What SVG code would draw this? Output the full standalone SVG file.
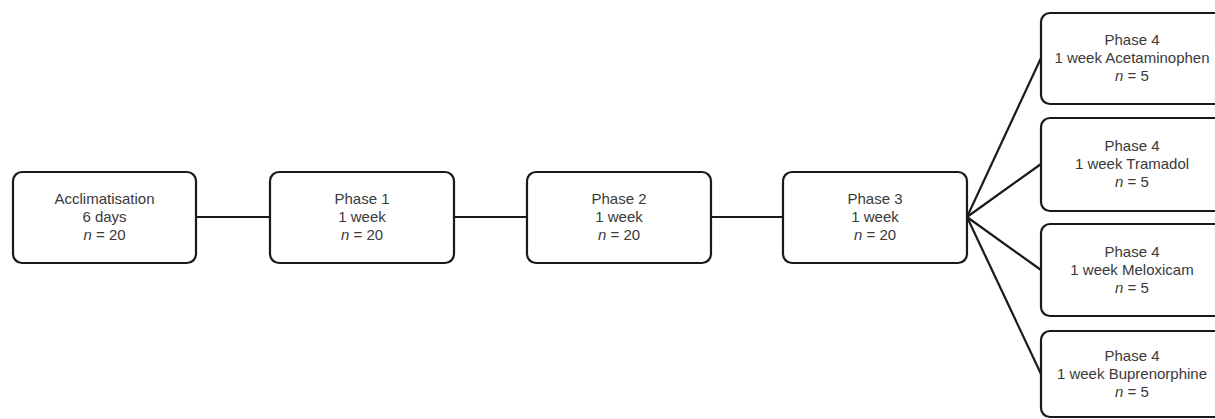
<svg xmlns="http://www.w3.org/2000/svg" width="1215" height="419" viewBox="0 0 1215 419">
<style>
.box{fill:#fff;stroke:#1a1a1a;stroke-width:2.2}
.lbl{font-family:"Liberation Sans",Arial,sans-serif;font-size:15px;fill:#3a3a3a;text-anchor:middle}
.conn{stroke:#1a1a1a;stroke-width:2.2;fill:none}
</style>
<rect width="1215" height="419" fill="#fff"/>
<g id="connectors">
<line class="conn" x1="196" y1="217" x2="270" y2="217"/>
<line class="conn" x1="454" y1="217" x2="527" y2="217"/>
<line class="conn" x1="711" y1="217" x2="783" y2="217"/>
<line class="conn" x1="967" y1="217" x2="1041" y2="58"/>
<line class="conn" x1="967" y1="217" x2="1041" y2="164"/>
<line class="conn" x1="967" y1="217" x2="1041" y2="270"/>
<line class="conn" x1="967" y1="217" x2="1041" y2="374"/>
</g>
<g id="acclimatisation">
<rect class="box" x="13" y="172" width="183" height="91" rx="9"/>
<text class="lbl"><tspan x="104.5" y="204">Acclimatisation</tspan><tspan x="104.5" y="222">6 days</tspan><tspan x="104.5" y="240"><tspan font-style="italic">n</tspan> = 20</tspan></text>
</g>
<g id="phase1">
<rect class="box" x="270" y="172" width="184" height="91" rx="9"/>
<text class="lbl"><tspan x="362" y="204">Phase 1</tspan><tspan x="362" y="222">1 week</tspan><tspan x="362" y="240"><tspan font-style="italic">n</tspan> = 20</tspan></text>
</g>
<g id="phase2">
<rect class="box" x="527" y="172" width="184" height="91" rx="9"/>
<text class="lbl"><tspan x="619" y="204">Phase 2</tspan><tspan x="619" y="222">1 week</tspan><tspan x="619" y="240"><tspan font-style="italic">n</tspan> = 20</tspan></text>
</g>
<g id="phase3">
<rect class="box" x="783" y="172" width="184" height="91" rx="9"/>
<text class="lbl"><tspan x="875" y="204">Phase 3</tspan><tspan x="875" y="222">1 week</tspan><tspan x="875" y="240"><tspan font-style="italic">n</tspan> = 20</tspan></text>
</g>
<g id="phase4-acetaminophen">
<rect class="box" x="1041" y="13" width="184" height="91" rx="9"/>
<text class="lbl"><tspan x="1132" y="45">Phase 4</tspan><tspan x="1132" y="63">1 week Acetaminophen</tspan><tspan x="1132" y="81"><tspan font-style="italic">n</tspan> = 5</tspan></text>
</g>
<g id="phase4-tramadol">
<rect class="box" x="1041" y="118" width="184" height="93" rx="9"/>
<text class="lbl"><tspan x="1132" y="151">Phase 4</tspan><tspan x="1132" y="169">1 week Tramadol</tspan><tspan x="1132" y="187"><tspan font-style="italic">n</tspan> = 5</tspan></text>
</g>
<g id="phase4-meloxicam">
<rect class="box" x="1041" y="224" width="184" height="92" rx="9"/>
<text class="lbl"><tspan x="1132" y="257">Phase 4</tspan><tspan x="1132" y="275">1 week Meloxicam</tspan><tspan x="1132" y="293"><tspan font-style="italic">n</tspan> = 5</tspan></text>
</g>
<g id="phase4-buprenorphine">
<rect class="box" x="1041" y="331" width="184" height="86" rx="9"/>
<text class="lbl"><tspan x="1132" y="361">Phase 4</tspan><tspan x="1132" y="379">1 week Buprenorphine</tspan><tspan x="1132" y="397"><tspan font-style="italic">n</tspan> = 5</tspan></text>
</g>
</svg>
